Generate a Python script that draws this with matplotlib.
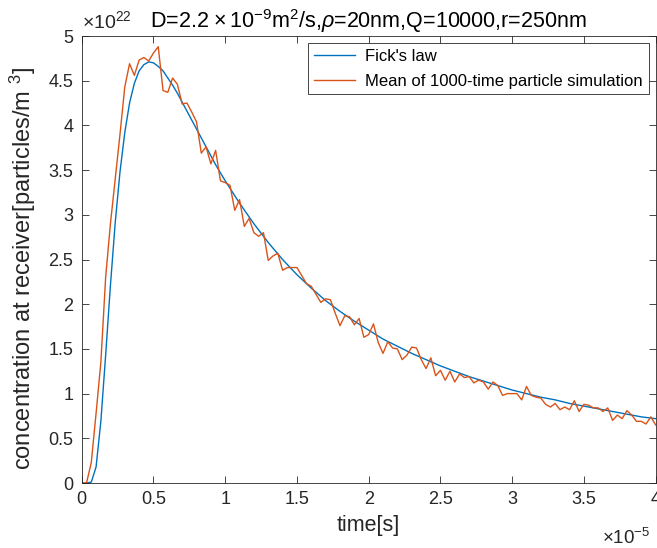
import numpy as np
import matplotlib
matplotlib.use('Agg')
import matplotlib.pyplot as plt

plt.rcParams['font.family'] = ['Liberation Sans', 'DejaVu Sans']
plt.rcParams['mathtext.fontset'] = 'custom'
plt.rcParams['mathtext.rm'] = 'Liberation Sans'
plt.rcParams['mathtext.it'] = 'Liberation Sans:italic'

# time in units of 1e-5 s, concentration in units of 1e22 particles/m^3
fick_t = [0, 0.0333, 0.0667, 0.1, 0.1333, 0.1667, 0.2, 0.2333, 0.2667, 0.3,
          0.3333, 0.3667, 0.4, 0.4333, 0.4667, 0.5, 0.5333, 0.5667, 0.6, 0.6333,
          0.6667, 0.7, 0.7333, 0.7667, 0.8, 0.8333, 0.8667, 0.9, 0.9333, 0.9667,
          1.0, 1.1, 1.2, 1.3, 1.4, 1.5, 1.6, 1.7, 1.8, 1.9,
          2.0, 2.1, 2.2, 2.3, 2.4, 2.5, 2.6, 2.7, 2.8, 2.9,
          3.0, 3.1, 3.2, 3.3, 3.4, 3.5, 3.6, 3.7, 3.8, 3.9, 4.0]
fick_c = [0, 0, 0.01, 0.18, 0.69, 1.43, 2.21, 2.91, 3.48, 3.92,
          4.25, 4.47, 4.61, 4.68, 4.71, 4.70, 4.66, 4.61, 4.53, 4.45,
          4.36, 4.26, 4.16, 4.06, 3.96, 3.86, 3.76, 3.66, 3.56, 3.47,
          3.38, 3.13, 2.90, 2.69, 2.50, 2.33, 2.18, 2.04, 1.92, 1.81,
          1.71, 1.61, 1.53, 1.45, 1.38, 1.31, 1.25, 1.19, 1.14, 1.09,
          1.04, 1.00, 0.96, 0.93, 0.89, 0.86, 0.83, 0.80, 0.77, 0.74, 0.72]

sim_t = np.linspace(0, 4, 121)
sim_c = [0, 0, 0.23, 0.78, 1.35, 2.30, 2.90, 3.40, 3.90, 4.43,
         4.69, 4.56, 4.73, 4.76, 4.72, 4.81, 4.88, 4.39, 4.37, 4.53,
         4.46, 4.24, 4.25, 4.15, 4.04, 3.69, 3.76, 3.57, 3.72, 3.38,
         3.36, 3.33, 3.05, 3.17, 2.87, 2.96, 2.80, 2.76, 2.80, 2.49,
         2.54, 2.57, 2.38, 2.41, 2.41, 2.41, 2.32, 2.23, 2.20, 2.11,
         2.02, 2.06, 2.05, 1.90, 1.76, 1.87, 1.86, 1.77, 1.84, 1.63,
         1.66, 1.78, 1.57, 1.45, 1.58, 1.51, 1.50, 1.38, 1.43, 1.52,
         1.51, 1.38, 1.28, 1.40, 1.20, 1.26, 1.15, 1.25, 1.13, 1.22,
         1.18, 1.19, 1.12, 1.15, 1.13, 1.05, 1.13, 1.09, 0.98, 1.00,
         1.00, 1.00, 0.93, 1.08, 0.98, 0.96, 0.95, 0.88, 0.85, 0.89,
         0.82, 0.85, 0.82, 0.92, 0.80, 0.88, 0.87, 0.84, 0.84, 0.80,
         0.84, 0.70, 0.76, 0.72, 0.81, 0.76, 0.69, 0.69, 0.66, 0.74,
         0.65]

x_ticks = np.arange(0, 4.01, 0.5)
y_ticks = np.arange(0, 5.01, 0.5)

dark = '#262626'
fig = plt.figure(figsize=(6.57, 5.48), dpi=100)
ax = fig.add_axes([0.1244, 0.1186, 0.8735, 0.8157])

ax.plot(fick_t, fick_c, color='#0072BD', lw=1.0, label="Fick's law")
ax.plot(sim_t, sim_c, color='#D95319', lw=1.0,
        label='Mean of 1000-time particle simulation')

ax.set_xlim(0, 4)
ax.set_ylim(0, 5)
ax.set_xticks(x_ticks)
ax.set_yticks(y_ticks)
ax.xaxis.set_major_formatter(lambda v, p: '%g' % v)
ax.yaxis.set_major_formatter(lambda v, p: '%g' % v)
ax.tick_params(direction='in', top=True, right=True, length=5, width=0.6,
               labelsize=13, colors=dark, pad=6)
for s in ax.spines.values():
    s.set_color(dark)
    s.set_linewidth(0.6)

ax.set_xlabel('time[s]', fontsize=15.5, color=dark, labelpad=5)
ax.set_ylabel('concentration at receiver[particles/m $^{3}$]', fontsize=17,
              color=dark)
ax.yaxis.set_label_coords(-0.077, 0.48)
ax.set_title(r'D=2.2 $\times\,$10$^{-9}$m$^{2}$/s,$\rho$=20nm,Q=10000,r=250nm',
             fontsize=15.5, color='black', pad=6)

# MATLAB style exponent labels
ax.text(0, 1.008, r'$\times$10$^{22}$', transform=ax.transAxes, ha='left',
        va='bottom', fontsize=14, color=dark)
ax.text(0.99, -0.1, r'$\times$10$^{-5}$', transform=ax.transAxes, ha='right',
        va='top', fontsize=13.5, color=dark)

leg = ax.legend(loc='upper right', fontsize=12, frameon=True, fancybox=False,
                framealpha=1, edgecolor=dark, handlelength=2.5,
                handletextpad=0.6, labelspacing=0.6, borderpad=0.35,
                borderaxespad=0.4)
leg.get_frame().set_linewidth(0.6)

fig.savefig('out.png', dpi=100)
